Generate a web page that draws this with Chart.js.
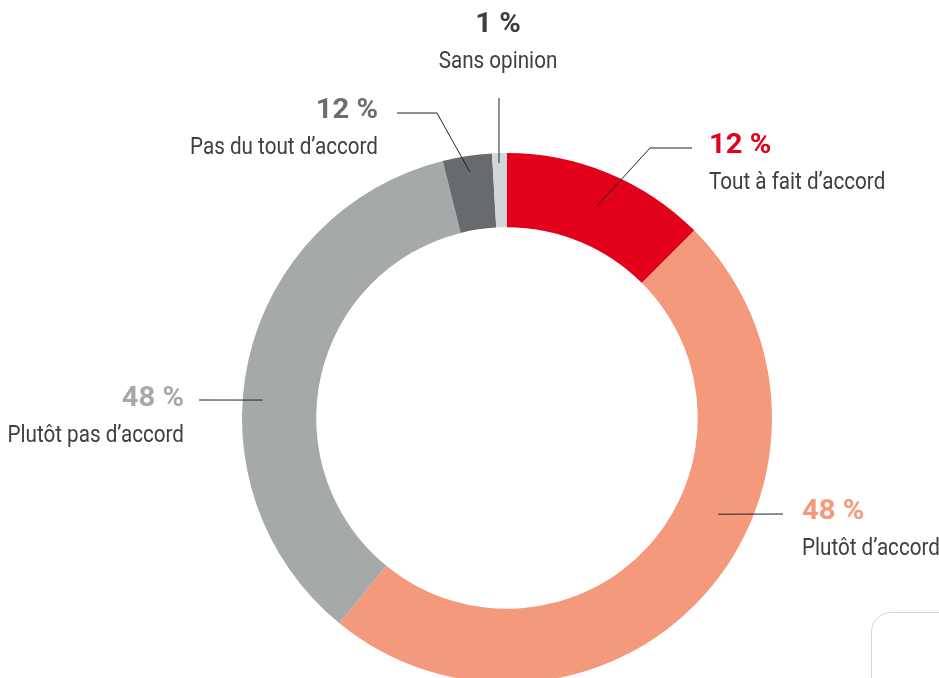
<!DOCTYPE html>
<html>
<head>
<meta charset="utf-8">
<script src="https://cdn.jsdelivr.net/npm/chart.js@4"></script>
<style>
  html, body { margin: 0; padding: 0; background: #fff; overflow: hidden; }
  #wrap { position: absolute; left: 0; top: 0; width: 939px; height: 836px; }
  #corner { position: absolute; left: 871px; top: 612px; width: 200px; height: 200px;
            border: 1px solid #d6d6d6; border-radius: 20px; }
</style>
</head>
<body>
<div id="wrap"><canvas id="my-chart" width="939" height="836"></canvas></div>
<div id="corner"></div>
<script>
const categories = ['Tout à fait d’accord', 'Plutôt d’accord', 'Plutôt pas d’accord', 'Pas du tout d’accord', 'Sans opinion'];
const shares = [12.5, 48.4, 35.2, 3.0, 0.9];
const shownPct = ['12 %', '48 %', '48 %', '12 %', '1 %'];
const colors = ['#e2001a', '#f4997b', '#a5a9aa', '#676b6e', '#d4d7d8'];
const pctColors = ['#e2001a', '#f4997b', '#a5a9aa', '#6a6e70', '#3d3d3d'];

// where each callout sits: text anchor, alignment, leader line (elbow + angle/radius on the ring)
const callouts = [
  { x: 709, y: 146, align: 'left', from: [692, 148], elbow: [650, 148], ang: 23, rad: 230 },
  { x: 802, y: 512, align: 'left', from: [783, 514], elbow: null, ang: 114.5, rad: 232 },
  { x: 184, y: 399, align: 'right', from: [199, 400], elbow: null, ang: 274.2, rad: 245 },
  { x: 378, y: 111, align: 'right', from: [397, 113], elbow: [437, 113], ang: 351.4, rad: 249 },
  { x: 498, y: 25, align: 'center', from: [499, 98], elbow: null, ang: 358.2, rad: 255 }
];

function drawText(ctx, txt, x, y, align, font, color, sq) {
  ctx.save();
  ctx.font = font;
  ctx.fillStyle = color;
  ctx.textBaseline = 'middle';
  const w = ctx.measureText(txt).width * sq;
  let left = x;
  if (align === 'right') left = x - w;
  if (align === 'center') left = x - w / 2;
  ctx.translate(left, y);
  ctx.scale(sq, 1); // stretch / squeeze horizontally
  ctx.textAlign = 'left';
  ctx.fillText(txt, 0, 0);
  ctx.restore();
}

const calloutPlugin = {
  id: 'callouts',
  afterDraw(chart) {
    const ctx = chart.ctx;
    const arc = chart.getDatasetMeta(0).data[0];
    const cx = arc.x, cy = arc.y;
    callouts.forEach((c, i) => {
      const a = c.ang * Math.PI / 180;
      const ex = cx + c.rad * Math.sin(a);
      const ey = cy - c.rad * Math.cos(a);
      ctx.save();
      ctx.strokeStyle = '#222';
      ctx.lineWidth = 1;
      ctx.beginPath();
      ctx.moveTo(c.from[0], c.from[1]);
      if (c.elbow) ctx.lineTo(c.elbow[0], c.elbow[1]);
      ctx.lineTo(ex, ey);
      ctx.stroke();
      ctx.restore();
      drawText(ctx, shownPct[i], c.x, c.y, c.align, 'bold 27px Roboto', pctColors[i], 1.08);
      drawText(ctx, categories[i], c.x, c.y + 37, c.align, '24px Roboto', '#404040', 0.86);
    });
  }
};

const ctx = document.getElementById('my-chart').getContext('2d');
new Chart(ctx, {
  type: 'doughnut',
  data: {
    labels: categories,
    datasets: [
      {
        data: shares,
        backgroundColor: colors,
        borderWidth: 0,
      },
    ],
  },
  options: {
    responsive: false,
    animation: false,
    cutout: '72%',
    layout: { padding: { top: 153, bottom: 153, left: 75, right: 0 } },
    plugins: { legend: { display: false }, tooltip: { enabled: false } },
  },
  plugins: [calloutPlugin],
});
</script>
</body>
</html>
